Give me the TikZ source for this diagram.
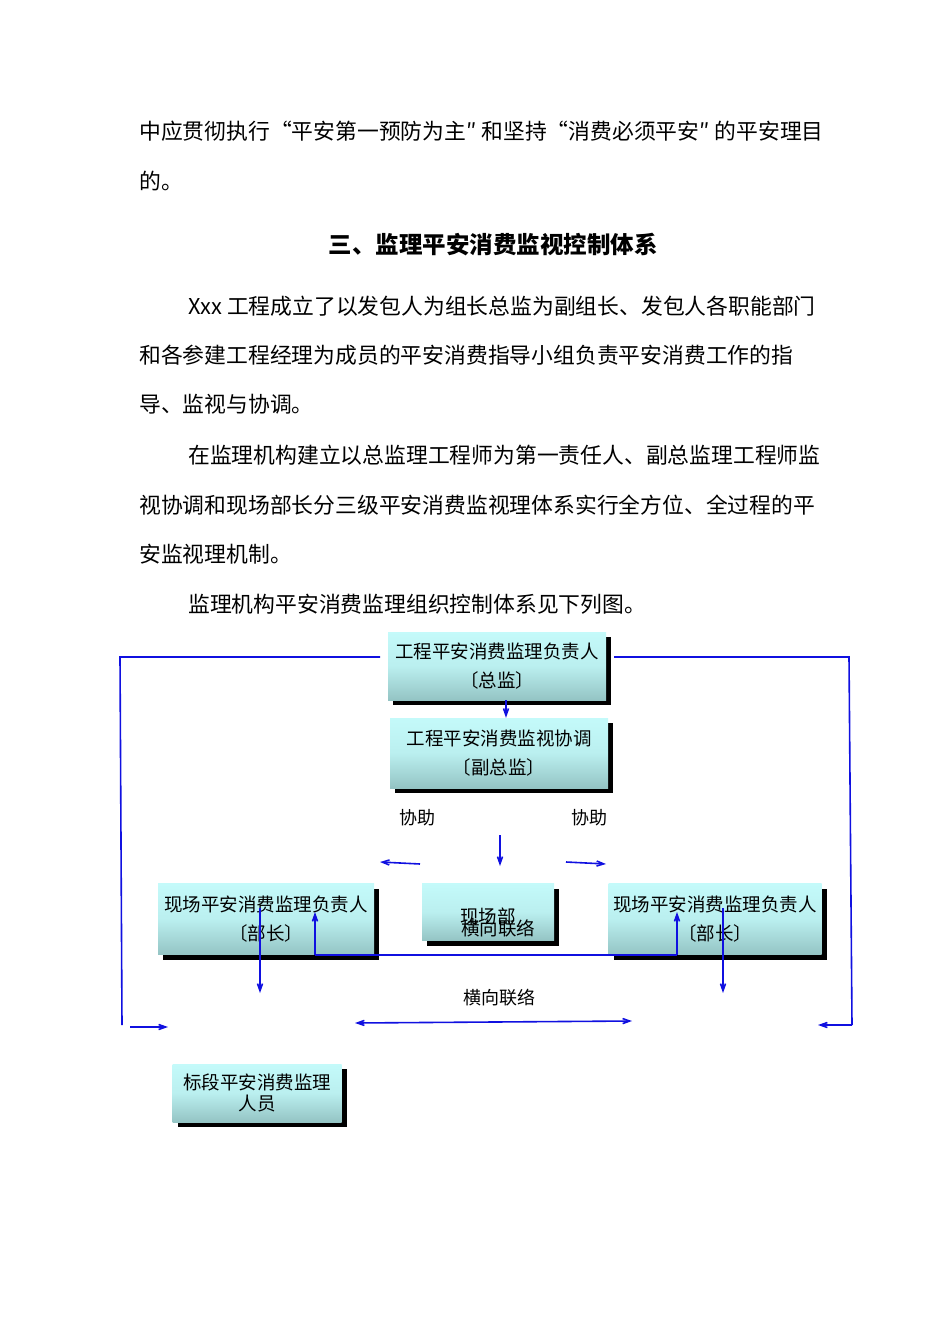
\documentclass[tikz,border=0pt]{standalone}
\usepackage{fontspec}
\setmainfont{Noto Sans CJK SC}
\usetikzlibrary{arrows.meta,shadows}
\definecolor{boxtop}{HTML}{C4FAFA}
\definecolor{boxbot}{HTML}{94C4C4}
\definecolor{linkblue}{HTML}{1010E0}
\tikzset{
  para/.style={anchor=west,inner sep=0pt,font=\fontsize{21.8}{22}\selectfont},
  box/.style={inner sep=0pt,top color=boxtop,bottom color=boxbot,middle color=boxtop!80!boxbot,
    drop shadow={shadow xshift=5pt,shadow yshift=-5pt,fill=black,opacity=1},
    align=center,font=\fontsize{18.5}{29}\selectfont},
  link/.style={draw=linkblue,line width=1.6pt},
  tip/.style={-{Straight Barb[length=7pt,width=5pt]}},
}
\begin{document}
\begin{tikzpicture}[x=1pt,y=-1pt]
\useasboundingbox (0,0) rectangle (950,1344);
% body text
\node[para] (l1) at (139,131) {中应贯彻执行“平安第一预防为主″ 和坚持“消费必须平安″ 的平安理目};
\node[para] (l2) at (139,181) {的。};
\node[inner sep=0pt,font=\fontsize{23.5}{24}\selectfont\bfseries] (title) at (493,245) {三、监理平安消费监视控制体系};
\node[para] (l3) at (188,306) {Xxx 工程成立了以发包人为组长总监为副组长、发包人各职能部门};
\node[para] (l4) at (139,355) {和各参建工程经理为成员的平安消费指导小组负责平安消费工作的指};
\node[para] (l5) at (139,404) {导、监视与协调。};
\node[para] (l6) at (188,455) {在监理机构建立以总监理工程师为第一责任人、副总监理工程师监};
\node[para] (l7) at (139,505) {视协调和现场部长分三级平安消费监视理体系实行全方位、全过程的平};
\node[para] (l8) at (139,554) {安监视理机制。};
\node[para] (l9) at (188,604) {监理机构平安消费监理组织控制体系见下列图。};
% boxes
\node[box,minimum width=218pt,minimum height=68pt] (chief) at (497,666) {工程平安消费监理负责人\\〔总监〕};
\node[box,minimum width=218pt,minimum height=70pt] (deputy) at (499,753) {工程平安消费监视协调\\〔副总监〕};
\node[box,minimum width=216pt,minimum height=71pt] (siteL) at (266,919) {现场平安消费监理负责人\\〔部长〕};
\node[box,minimum width=132pt,minimum height=57pt] (dept) at (488,912) {};
\node[font=\fontsize{18.5}{18}\selectfont,inner sep=0pt] (deptA) at (488,916) {现场部};
\node[font=\fontsize{18.5}{18}\selectfont,inner sep=0pt] (deptB) at (498,928) {横向联络};
\node[box,minimum width=213pt,minimum height=71pt] (siteR) at (715,919) {现场平安消费监理负责人\\〔部长〕};
\node[box,minimum width=169pt,minimum height=58pt,font=\fontsize{18.5}{21}\selectfont] (staff) at (257,1093) {标段平安消费监理\\人员};
% labels
\node[font=\fontsize{18}{18}\selectfont] (helpL) at (417,818) {协助};
\node[font=\fontsize{18}{18}\selectfont] (helpR) at (589,818) {协助};
\node[font=\fontsize{18}{18}\selectfont] (cross) at (499,998) {横向联络};
% free ends
\coordinate (oL1) at (380,657); \coordinate (oL2) at (120,657);
\coordinate (oL3) at (122,1025); \coordinate (oL4) at (168,1027);
\coordinate (oR1) at (614,657); \coordinate (oR2) at (849,657);
\coordinate (oR3) at (852,1025); \coordinate (oR4) at (818,1025);
\coordinate (aL1) at (420,864); \coordinate (aL2) at (380,862);
\coordinate (aD1) at (500,835); \coordinate (aD2) at (500,866);
\coordinate (aR1) at (566,862); \coordinate (aR2) at (606,864);
\coordinate (dL1) at (260,908); \coordinate (dL2) at (260,993);
\coordinate (dR1) at (723,908); \coordinate (dR2) at (723,993);
\coordinate (hL) at (315,955); \coordinate (hLt) at (315,912);
\coordinate (hR) at (677,955); \coordinate (hRt) at (677,912);
\coordinate (xL) at (355,1023); \coordinate (xR) at (632,1021);
% connectors
\draw[link] (oL1) -- (oL2) -- (oL3);
\draw[link,tip] (oL3) ++(8,2) -- (oL4);
\draw[link] (oR1) -- (oR2) -- (oR3);
\draw[link,tip] (oR3) -- (oR4);
\draw[link,tip] (chief.south -| 506,0) -- (deputy.north -| 506,0);
\draw[link,tip] (aL1) -- (aL2);
\draw[link,tip] (aD1) -- (aD2);
\draw[link,tip] (aR1) -- (aR2);
\draw[link,tip] (dL1) -- (dL2);
\draw[link,tip] (dR1) -- (dR2);
\draw[link,tip] (hL) -- (hLt);
\draw[link] (hL) -- (hR);
\draw[link,tip] (hR) -- (hRt);
\draw[link,{Straight Barb[length=7pt,width=5pt]}-{Straight Barb[length=7pt,width=5pt]}] (xL) -- (xR);
\end{tikzpicture}
\end{document}
